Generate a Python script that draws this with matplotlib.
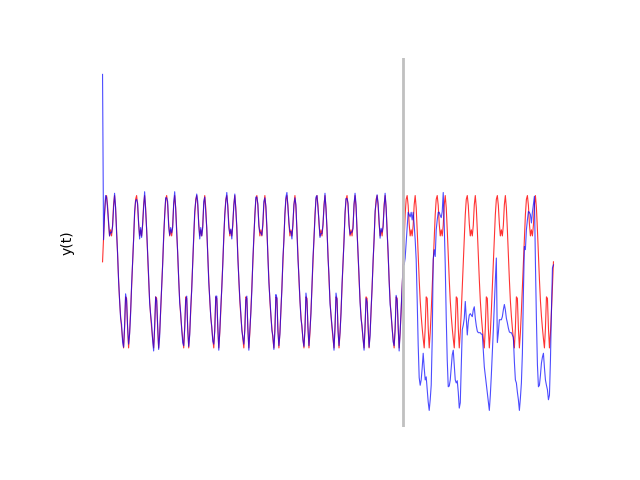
import numpy as np
import matplotlib
matplotlib.use("Agg")
import matplotlib.pyplot as plt

# one period (30 samples) of the true signal
periode = [0.13, 0.45, 0.75, 0.95, 1.00, 0.87, 0.63, 0.47, 0.55, 0.47,
           0.61, 0.88, 1.00, 0.84, 0.55, 0.22, -0.10, -0.38, -0.58, -0.74,
           -0.88, -1.00, -0.74, -0.33, -0.35, -0.74, -1.00, -0.80, -0.52, -0.20]
n_periodes = 15
t_split = 300

# small deviations of the fitted curve around the truth (training part)
ecarts = [0.04, -0.03, 0.02, 0.05, -0.02, -0.04, 0.03, 0.0, -0.03, 0.04,
          -0.02, -0.05, 0.03, 0.01, -0.04, 0.03, -0.02, 0.02, -0.03, 0.05,
          -0.04, 0.01, 0.03]
pic_depart = 2.59

# blue forecast after the split (t = 301 .. 450)
prevision = [0.09, 0.18, 0.38, 0.58, 0.78, 0.75, 0.72, 0.78, 0.68, 0.78,
             0.62, 0.42, 0.16, -0.37, -0.96, -1.39, -1.49, -1.42, -1.26, -1.07,
             -1.26, -1.42, -1.38, -1.55, -1.71, -1.82, -1.68, -1.49, -0.89, 0.16,
             0.29, 0.20, 0.55, 0.68, 0.78, 0.78, 0.74, 0.71, 0.79, 1.04,
             0.62, 0.09, -0.61, -1.16, -1.51, -1.50, -1.42, -1.26, -1.09, -1.03,
             -1.22, -1.42, -1.46, -1.43, -1.58, -1.79, -1.72, -1.22, -0.76, -0.70,
             -0.61, -0.39, -0.61, -0.83, -0.66, -0.57, -0.55, -0.57, -0.59, -0.50,
             -0.46, -0.61, -0.71, -0.78, -0.80, -0.80, -0.80, -0.82, -0.82, -1.03,
             -1.25, -1.36, -1.46, -1.59, -1.71, -1.82, -1.62, -1.36, -1.07, -0.76,
             -0.43, -0.11, 0.18, -0.93, -0.80, -0.63, -0.63, -0.63, -0.59, -0.50,
             -0.43, -0.50, -0.61, -0.67, -0.74, -0.79, -0.80, -0.80, -0.83, -0.86,
             -1.18, -1.42, -1.46, -1.58, -1.68, -1.82, -1.66, -1.46, -1.07, -0.28,
             0.33, 0.29, 0.55, 0.68, 0.79, 0.78, 0.75, 0.64, 0.78, 0.88,
             0.99, 0.12, -0.63, -1.22, -1.51, -1.49, -1.36, -1.20, -1.12, -1.07,
             -1.26, -1.42, -1.49, -1.55, -1.68, -1.62, -1.16, -0.50, 0.05, 0.09]

# --- build the series ---
vrai = np.array(periode * n_periodes + [periode[0]])
t = np.arange(len(vrai))

ajuste = vrai[:t_split + 1] + np.resize(ecarts, t_split + 1)
ajuste[0] = pic_depart
pred = np.concatenate([ajuste, prevision])

# --- plot ---
fig, ax = plt.subplots(figsize=(6.4, 4.8), dpi=100)
ax.plot(t, vrai, color="red", lw=0.8, alpha=0.8)
ax.plot(t, pred, color="blue", lw=0.8, alpha=0.7)
ax.axvline(t_split, color="#c0c0c0", lw=2)

ax.set_ylabel("y(t)")
ax.set_xticks([])
ax.set_yticks([])
for s in ax.spines.values():
    s.set_visible(False)

fig.savefig("out.png")
